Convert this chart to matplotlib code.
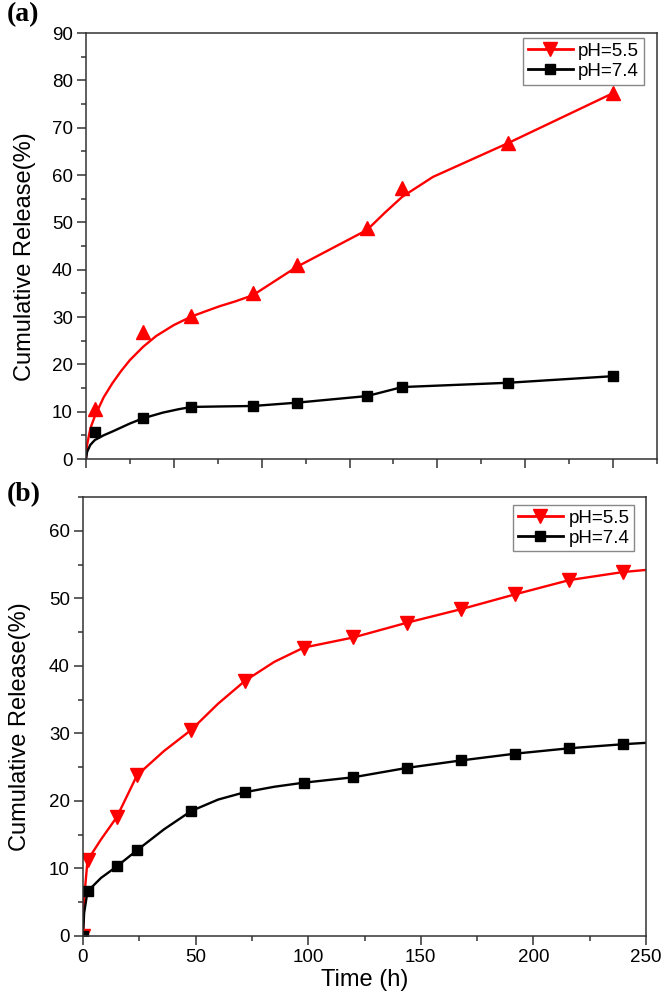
import matplotlib
matplotlib.use("Agg")
import matplotlib.pyplot as plt
from matplotlib.lines import Line2D
from matplotlib.ticker import MultipleLocator

plt.rcParams['font.family'] = ['Liberation Sans', 'DejaVu Sans']

# (a) измеренные точки
t_a = [4, 26, 48, 76, 96, 128, 144, 192, 240]
a_ph55 = [10.5, 26.8, 30.2, 35.1, 41.0, 48.8, 57.3, 66.8, 77.3]
a_ph74 = [5.7, 8.7, 11.0, 11.2, 11.9, 13.3, 15.2, 16.1, 17.5]

# (a) сглаженные кривые
fit_t_a55 = [0, 0.5, 2, 4, 8, 12, 16, 20, 26, 32, 40, 48, 55, 61, 68, 76, 86, 96,
             112, 128, 136, 144, 158, 192, 240]
fit_a_ph55 = [0, 3, 6.5, 9, 13, 16, 18.6, 20.9, 23.7, 26.0, 28.3, 30.1, 31.3, 32.3,
              33.3, 34.6, 37.6, 40.6, 44.5, 48.4, 52, 55.4, 59.6, 66.7, 77.3]
fit_t_a74 = [0, 0.5, 2, 4, 8, 12, 20, 26, 35, 42, 48, 61, 76, 96, 128, 144, 192, 240]
fit_a_ph74 = [0, 1.5, 3, 4, 5, 5.8, 7.5, 8.6, 9.8, 10.5, 11.0, 11.1, 11.2, 11.9,
              13.3, 15.2, 16.1, 17.5]

# (b) измеренные точки
t_b = [0, 2, 15, 24, 48, 72, 98, 120, 144, 168, 192, 216, 240]
b_ph55 = [0, 11.2, 17.6, 23.8, 30.5, 37.8, 42.7, 44.2, 46.4, 48.4, 50.6, 52.7, 53.9]
b_ph74 = [0, 6.6, 10.3, 12.7, 18.5, 21.3, 22.7, 23.5, 24.9, 26.0, 27.0, 27.8, 28.4]

# (b) линии
line_t_b = [0, 0.5, 2, 8, 15, 24, 36, 48, 60, 72, 85, 98, 120, 144, 168, 192, 216, 240, 250]
line_b_ph55 = [0, 5.5, 11.2, 14.3, 17.6, 23.8, 27.4, 30.5, 34.4, 37.8, 40.6, 42.7, 44.2,
               46.4, 48.4, 50.6, 52.7, 53.9, 54.2]
line_b_ph74 = [0, 3.4, 6.6, 8.6, 10.3, 12.7, 15.8, 18.5, 20.2, 21.3, 22.1, 22.7, 23.5,
               24.9, 26.0, 27.0, 27.8, 28.4, 28.6]

labels = ["pH=5.5", "pH=7.4"]
red, black = '#ff0000', '#000000'

fig = plt.figure(figsize=(6.64, 9.99), dpi=100)
ax1 = fig.add_axes([86/664, 1 - 459/999, 571/664, 426/999])
ax2 = fig.add_axes([83/664, 1 - 936/999, 563/664, 439/999])


def style(ax):
    for s in ax.spines.values():
        s.set_linewidth(1.1)
        s.set_color('#333333')
    ax.tick_params(which='major', direction='out', length=6.5, width=1.1,
                   labelsize=13.5, pad=3, color='#333333', top=False, right=False)
    ax.tick_params(which='minor', direction='out', length=3.5, width=1.1,
                   color='#333333', top=False, right=False)


def legend(ax, x, y):
    handles = [Line2D([], [], color=red, lw=2, marker='v', ms=10),
               Line2D([], [], color=black, lw=2, marker='s', ms=7)]
    leg = ax.legend(handles, labels, loc='upper right', bbox_to_anchor=(x, y),
                    borderaxespad=0, fontsize=13.5, fancybox=False, framealpha=1,
                    edgecolor='#888888', handlelength=2.4, handletextpad=0.3,
                    labelspacing=0.15, borderpad=0.25)
    leg.get_frame().set_linewidth(1.0)


# (a)
ax1.plot(fit_t_a55, fit_a_ph55, color=red, lw=1.7)
ax1.plot(fit_t_a74, fit_a_ph74, color=black, lw=1.7)
ax1.plot(t_a, a_ph55, ls='none', marker='^', ms=9.5, color=red)
ax1.plot(t_a, a_ph74, ls='none', marker='s', ms=7.5, color=black)
ax1.set_xlim(0, 260)
ax1.set_ylim(0, 90)
ax1.xaxis.set_major_locator(MultipleLocator(40))
ax1.xaxis.set_minor_locator(MultipleLocator(20))
ax1.yaxis.set_major_locator(MultipleLocator(10))
ax1.yaxis.set_minor_locator(MultipleLocator(5))
ax1.tick_params(axis='x', labelbottom=False)
style(ax1)
ax1.set_ylabel("Cumulative Release(%)", fontsize=17)
ax1.yaxis.set_label_coords(-0.088, 0.476)
legend(ax1, 0.977, 0.988)

# (b)
ax2.plot(line_t_b, line_b_ph55, color=red, lw=1.7)
ax2.plot(line_t_b, line_b_ph74, color=black, lw=1.7)
ax2.plot(t_b, b_ph55, ls='none', marker='v', ms=9.5, color=red)
ax2.plot(t_b, b_ph74, ls='none', marker='s', ms=7.5, color=black)
ax2.set_xlim(0, 250)
ax2.set_ylim(0, 65)
ax2.xaxis.set_major_locator(MultipleLocator(50))
ax2.xaxis.set_minor_locator(MultipleLocator(25))
ax2.yaxis.set_major_locator(MultipleLocator(10))
ax2.yaxis.set_minor_locator(MultipleLocator(5))
style(ax2)
ax2.set_ylabel("Cumulative Release(%)", fontsize=17)
ax2.yaxis.set_label_coords(-0.092, 0.478)
ax2.set_xlabel("Time (h)", fontsize=17, labelpad=2)
legend(ax2, 0.979, 0.982)

fig.text(7/664, 1 - 15/999, "(a)", fontsize=20, fontweight='bold',
         family='Liberation Serif', va='center', ha='left')
fig.text(7/664, 1 - 495/999, "(b)", fontsize=20, fontweight='bold',
         family='Liberation Serif', va='center', ha='left')

fig.savefig("out.png", dpi=100)
